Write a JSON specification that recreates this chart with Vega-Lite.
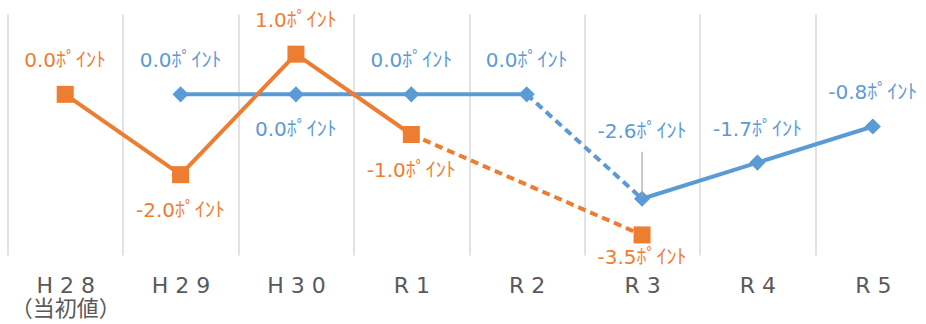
{
  "$schema": "https://vega.github.io/schema/vega-lite/v6.json",
  "width": 918.5,
  "height": 241,
  "autosize": {"type": "none"},
  "padding": {"left": 7.5, "top": 14, "right": 0, "bottom": 69},
  "background": "white",
  "config": {"view": {"stroke": null}},
  "data": {
    "values": [
      {"s": "orange", "year": "H28", "value": 0.0},
      {"s": "orange", "year": "H29", "value": -2.0},
      {"s": "orange", "year": "H30", "value": 1.0},
      {"s": "orange", "year": "R1", "value": -1.0},
      {"s": "orange", "year": "R3", "value": -3.5},
      {"s": "blue", "year": "H29", "value": 0.0},
      {"s": "blue", "year": "H30", "value": 0.0},
      {"s": "blue", "year": "R1", "value": 0.0},
      {"s": "blue", "year": "R2", "value": 0.0},
      {"s": "blue", "year": "R3", "value": -2.6},
      {"s": "blue", "year": "R4", "value": -1.7},
      {"s": "blue", "year": "R5", "value": -0.8}
    ]
  },
  "transform": [
    {"calculate": "(datum.value < 0 ? '-' : '') + format(abs(datum.value), '.1f') + 'ﾎﾟｲﾝﾄ'", "as": "lbl"}
  ],
  "encoding": {
    "x": {
      "field": "year",
      "type": "nominal",
      "scale": {"type": "band", "paddingInner": 0, "paddingOuter": 0, "range": [0, 923], "domain": ["H28", "H29", "H30", "R1", "R2", "R3", "R4", "R5"]},
      "axis": {
        "title": null,
        "domain": false,
        "ticks": false,
        "grid": true,
        "tickBand": "extent",
        "gridColor": "#d9d9d9",
        "gridWidth": 1.5,
        "labelFont": "DejaVu Sans, Noto Sans CJK JP",
        "labelFontSize": 22,
        "labelColor": "#595959",
        "labelPadding": 20,
        "labelAngle": 0,
        "labelBaseline": "top",
        "labelLineHeight": 23,
        "labelExpr": "datum.label == 'H28' ? ['H 2 8', '（当初値）'] : join(split(datum.label, ''), ' ')"
      }
    },
    "y": {
      "field": "value",
      "type": "quantitative",
      "scale": {"domain": [-4, 2], "nice": false, "zero": false},
      "axis": null
    }
  },
  "layer": [
    {
      "transform": [{"filter": "datum.s == 'blue' && indexof(['H29','H30','R1','R2'], datum.year) >= 0"}],
      "mark": {"type": "line", "color": "#5B9BD5", "strokeWidth": 4}
    },
    {
      "transform": [{"filter": "datum.s == 'blue' && indexof(['R2','R3'], datum.year) >= 0"}],
      "mark": {"type": "line", "color": "#5B9BD5", "strokeWidth": 4, "strokeDash": [8, 5]}
    },
    {
      "transform": [{"filter": "datum.s == 'blue' && indexof(['R3','R4','R5'], datum.year) >= 0"}],
      "mark": {"type": "line", "color": "#5B9BD5", "strokeWidth": 4}
    },
    {
      "transform": [{"filter": "datum.s == 'orange' && indexof(['H28','H29','H30','R1'], datum.year) >= 0"}],
      "mark": {"type": "line", "color": "#ED7D31", "strokeWidth": 4}
    },
    {
      "transform": [{"filter": "datum.s == 'orange' && indexof(['R1','R3'], datum.year) >= 0"}],
      "mark": {"type": "line", "color": "#ED7D31", "strokeWidth": 4, "strokeDash": [8, 5]}
    },
    {
      "transform": [{"filter": "datum.s == 'blue'"}],
      "mark": {"type": "point", "shape": "diamond", "filled": true, "size": 260, "color": "#5B9BD5", "opacity": 1}
    },
    {
      "transform": [{"filter": "datum.s == 'orange'"}],
      "mark": {"type": "point", "shape": "square", "filled": true, "size": 289, "color": "#ED7D31", "opacity": 1}
    },
    {
      "transform": [{"filter": "datum.s == 'blue' && datum.year == 'R3'"}],
      "mark": {"type": "rule", "color": "#a6a6a6", "strokeWidth": 1.2, "yOffset": -47, "y2Offset": -2},
      "encoding": {"y2": {"field": "value"}}
    },
    {
      "transform": [{"filter": "(datum.s == 'orange' && indexof(['H28','H30'], datum.year) >= 0) || (datum.s == 'blue' && indexof(['H29','R1','R2','R4','R5'], datum.year) >= 0)"}],
      "mark": {"type": "text", "dy": -33, "fontSize": 20, "font": "DejaVu Sans, Noto Sans CJK JP", "baseline": "middle"},
      "encoding": {
        "text": {"field": "lbl"},
        "color": {"field": "s", "type": "nominal", "scale": {"domain": ["orange", "blue"], "range": ["#ED7D31", "#5B9BD5"]}, "legend": null}
      }
    },
    {
      "transform": [{"filter": "(datum.s == 'orange' && indexof(['H29','R1'], datum.year) >= 0) || (datum.s == 'blue' && datum.year == 'H30')"}],
      "mark": {"type": "text", "dy": 36, "fontSize": 20, "font": "DejaVu Sans, Noto Sans CJK JP", "baseline": "middle"},
      "encoding": {
        "text": {"field": "lbl"},
        "color": {"field": "s", "type": "nominal", "scale": {"domain": ["orange", "blue"], "range": ["#ED7D31", "#5B9BD5"]}, "legend": null}
      }
    },
    {
      "transform": [{"filter": "datum.s == 'orange' && datum.year == 'R3'"}],
      "mark": {"type": "text", "dy": 23, "fontSize": 20, "font": "DejaVu Sans, Noto Sans CJK JP", "baseline": "middle", "color": "#ED7D31"},
      "encoding": {"text": {"field": "lbl"}}
    },
    {
      "transform": [{"filter": "datum.s == 'blue' && datum.year == 'R3'"}],
      "mark": {"type": "text", "dy": -67, "fontSize": 20, "font": "DejaVu Sans, Noto Sans CJK JP", "baseline": "middle", "color": "#5B9BD5"},
      "encoding": {"text": {"field": "lbl"}}
    }
  ]
}
